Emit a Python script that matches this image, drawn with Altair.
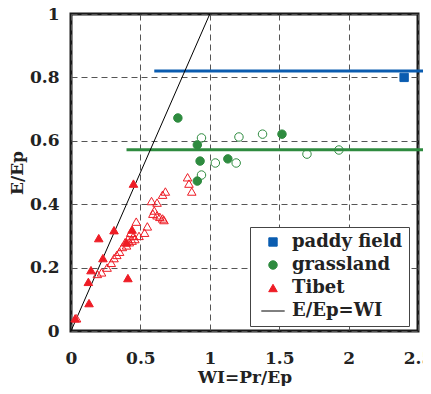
import altair as alt
import pandas as pd

categories = ["paddy field", "grassland", "Tibet", "E/Ep=WI"]
cat_colors = ["#0a5cb0", "#2e8b3f", "#ee1c25", "#000000"]
cat_shapes = ["square", "circle", "triangle-up", "M-2.7,0H2.7"]
cat_sizes = [70, 75, 95, 100]

paddy_x = [2.40]
paddy_y = [0.80]

grass_fill_x = [0.77, 0.91, 0.93, 0.91, 1.13, 1.52]
grass_fill_y = [0.672, 0.587, 0.536, 0.473, 0.543, 0.621]
grass_open_x = [0.94, 1.04, 0.94, 1.21, 1.38, 1.19, 1.70, 1.93]
grass_open_y = [0.609, 0.530, 0.492, 0.612, 0.621, 0.530, 0.558, 0.571]

tibet_fill_x = [0.45, 0.20, 0.31, 0.44, 0.40, 0.144, 0.23, 0.125, 0.13, 0.41, 0.03]
tibet_fill_y = [0.465, 0.293, 0.318, 0.32, 0.28, 0.192, 0.23, 0.155, 0.088, 0.167, 0.04]
tibet_open_x = [0.04, 0.19, 0.22, 0.26, 0.29, 0.31, 0.33, 0.35, 0.37, 0.40, 0.42, 0.44,
                0.46, 0.49, 0.47, 0.53, 0.55, 0.59, 0.60, 0.62, 0.58, 0.66, 0.68, 0.64,
                0.66, 0.62, 0.67, 0.84, 0.85, 0.87, 0.43, 0.41, 0.39, 0.45]
tibet_open_y = [0.04, 0.18, 0.185, 0.20, 0.215, 0.23, 0.24, 0.25, 0.265, 0.27, 0.28, 0.285,
                0.29, 0.30, 0.345, 0.31, 0.33, 0.37, 0.38, 0.405, 0.41, 0.43, 0.44, 0.36,
                0.355, 0.365, 0.35, 0.485, 0.465, 0.44, 0.31, 0.29, 0.28, 0.30]

wi_line_x = [0, 1]
wi_line_y = [0, 1]

hline_y = [0.82, 0.572]
hline_x1 = [0.6, 0.4]
hline_x2 = [2.55, 2.55]
hline_colors = ["#0a5cb0", "#2e8b3f"]

filled = pd.DataFrame({
    "x": paddy_x + grass_fill_x + tibet_fill_x,
    "y": paddy_y + grass_fill_y + tibet_fill_y,
    "cat": ["paddy field"] * len(paddy_x) + ["grassland"] * len(grass_fill_x) + ["Tibet"] * len(tibet_fill_x),
})
opened = pd.DataFrame({
    "x": grass_open_x + tibet_open_x,
    "y": grass_open_y + tibet_open_y,
    "cat": ["grassland"] * len(grass_open_x) + ["Tibet"] * len(tibet_open_x),
})
hlines = pd.DataFrame({"x": hline_x1, "x2": hline_x2, "y": hline_y, "col": hline_colors})
wiline = pd.DataFrame({"x": wi_line_x, "y": wi_line_y})

xscale = alt.Scale(domain=[0, 2.5], nice=False)
yscale = alt.Scale(domain=[0, 1], nice=False)
xaxis = alt.Axis(values=[0, 0.5, 1, 1.5, 2, 2.5], format="~g", title="WI=Pr/Ep",
                 labelPadding=19, titlePadding=3, labelFlush=False)
yaxis = alt.Axis(values=[0, 0.2, 0.4, 0.6, 0.8, 1], format="~g", title="E/Ep",
                 labelPadding=12, titlePadding=3, labelFlush=False)

legend = alt.Legend(title=None, orient="none", legendX=179, legendY=213,
                    fillColor="white", strokeColor="#444", padding=6,
                    labelFont="DejaVu Serif", labelFontWeight="bold", labelFontSize=18,
                    labelColor="#222", rowPadding=5, symbolStrokeWidth=1,
                    symbolOffset=8, labelOffset=10)

fill_sc = alt.Scale(domain=categories, range=cat_colors)
shape_sc = alt.Scale(domain=categories, range=cat_shapes)
size_sc = alt.Scale(domain=categories, range=cat_sizes)

rules = alt.Chart(hlines).mark_rule(strokeWidth=3).encode(
    x=alt.X("x:Q", scale=xscale, axis=xaxis),
    x2="x2:Q",
    y=alt.Y("y:Q", scale=yscale, axis=yaxis),
    color=alt.Color("col:N", scale=None),
)

diag = alt.Chart(wiline).mark_line(color="black", strokeWidth=1).encode(
    x=alt.X("x:Q", scale=xscale, axis=xaxis),
    y=alt.Y("y:Q", scale=yscale, axis=yaxis),
)

open_pts = alt.Chart(opened).mark_point(filled=False, opacity=1, strokeWidth=1).encode(
    x=alt.X("x:Q", scale=xscale, axis=xaxis),
    y=alt.Y("y:Q", scale=yscale, axis=yaxis),
    stroke=alt.Stroke("cat:N", scale=fill_sc, legend=legend),
    shape=alt.Shape("cat:N", scale=shape_sc, legend=legend),
    size=alt.Size("cat:N", scale=size_sc, legend=legend),
)

fill_pts = alt.Chart(filled).mark_point(opacity=1, strokeWidth=1).encode(
    x=alt.X("x:Q", scale=xscale, axis=xaxis),
    y=alt.Y("y:Q", scale=yscale, axis=yaxis),
    fill=alt.Fill("cat:N", scale=fill_sc, legend=legend),
    stroke=alt.Stroke("cat:N", scale=fill_sc, legend=legend),
    shape=alt.Shape("cat:N", scale=shape_sc, legend=legend),
    size=alt.Size("cat:N", scale=size_sc, legend=legend),
)

chart = alt.layer(rules, diag, open_pts, fill_pts).properties(
    width=347, height=317,
    autosize=alt.AutoSizeParams(type="none"),
    padding={"left": 63, "top": 6, "right": 5, "bottom": 55},
    background="white",
).configure_view(
    stroke="#1a1a1a", strokeWidth=3
).configure_axis(
    labelFont="DejaVu Serif", labelFontWeight="bold", labelFontSize=17, labelColor="#222",
    titleFont="DejaVu Serif", titleFontWeight="bold", titleFontSize=17, titleColor="#222",
    grid=True, gridDash=[6, 4], gridColor="#555", gridWidth=1, gridOpacity=1,
    domain=False, ticks=False,
)

chart.save("out.html", embed_options={"renderer": "svg", "actions": False})
